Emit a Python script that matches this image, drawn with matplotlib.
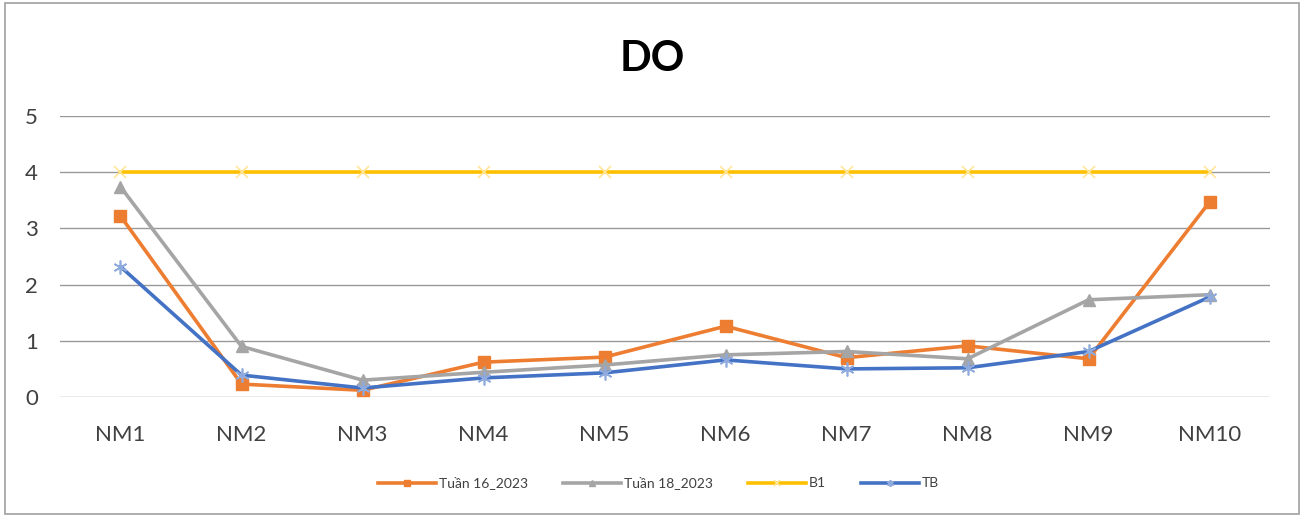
import numpy as np
from matplotlib import pyplot as plt
from matplotlib.patches import Rectangle

plt.rcParams['font.family'] = ['Lato', 'DejaVu Sans']

# dữ liệu DO theo điểm quan trắc
labels = ['NM1', 'NM2', 'NM3', 'NM4', 'NM5', 'NM6', 'NM7', 'NM8', 'NM9', 'NM10']
tuan16 = [3.22, 0.23, 0.12, 0.62, 0.71, 1.26, 0.70, 0.91, 0.68, 3.47]
tuan18 = [3.74, 0.90, 0.30, 0.44, 0.57, 0.75, 0.81, 0.68, 1.73, 1.82]
b1 = [4, 4, 4, 4, 4, 4, 4, 4, 4, 4]
tb = [2.32, 0.39, 0.16, 0.34, 0.43, 0.66, 0.50, 0.52, 0.81, 1.78]

fig = plt.figure(figsize=(13.04, 5.16), dpi=100)
ax = fig.add_axes([0.046, 0.2306, 0.928, 0.5446])
x = np.arange(len(labels))

ax.plot(x, tuan16, color='#ED7D31', lw=2.6, marker='s', ms=8, label='Tuần 16_2023', zorder=3)
ax.plot(x, tuan18, color='#A5A5A5', lw=2.6, marker='^', ms=8, label='Tuần 18_2023', zorder=3)
ax.plot(x, b1, color='#FFC000', lw=2.6, marker='x', ms=9, mew=1.2, mec='#FFE699', label='B1', zorder=3)
ax.plot(x, tb, color='#4472C4', lw=2.6, marker=(6, 2, 0), ms=10, mew=1.2, mec='#8FAADC', label='TB', zorder=4)

ax.set_xlim(-0.5, 9.5)
ax.set_ylim(0, 5)
ax.set_yticks(range(6))
ax.set_xticks(x)
ax.set_xticklabels(labels)
ax.tick_params(axis='both', length=0, labelsize=16, colors='#404040')
ax.tick_params(axis='y', pad=16)
ax.tick_params(axis='x', pad=20)
ax.grid(axis='y', color='#999999', lw=1)
ax.set_axisbelow(True)
for s in ax.spines.values():
    s.set_visible(False)

fig.text(0.5, 0.885, 'DO', ha='center', va='center', fontsize=30, fontweight='bold', color='black')

fig.legend(loc='center', bbox_to_anchor=(0.505, 0.064), ncol=4, frameon=False,
           fontsize=10, handlelength=4.2, columnspacing=2.5, handletextpad=0.2,
           markerscale=0.5, labelcolor='#404040')

# khung viền ngoài
fig.patches.append(Rectangle((0.004, 0.004), 0.992, 0.99, transform=fig.transFigure,
                             fill=False, edgecolor='#A0A0A0', lw=1.2))

fig.savefig('out.png', dpi=100)
